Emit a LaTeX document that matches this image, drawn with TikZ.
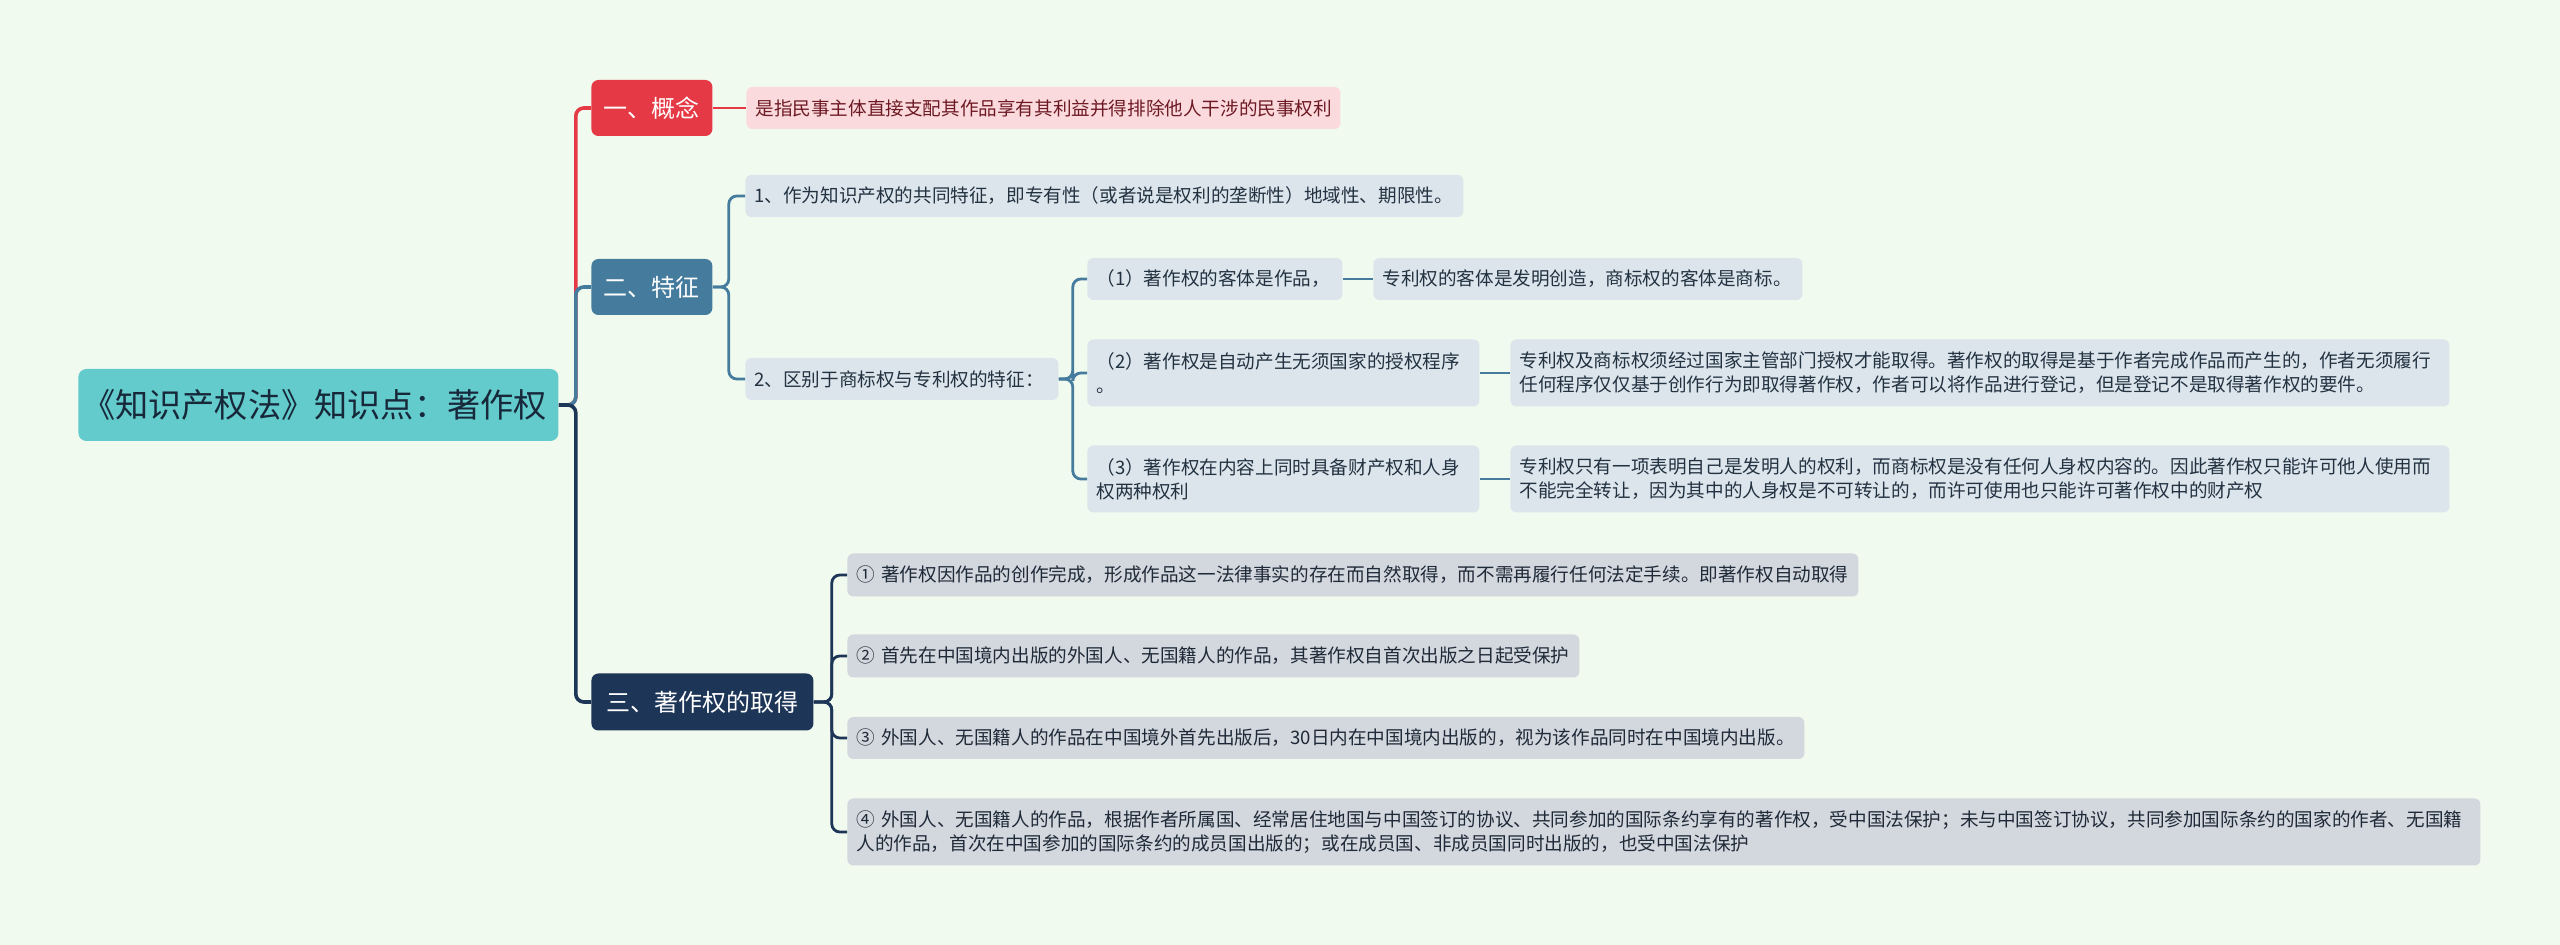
\documentclass[tikz,border=0pt]{standalone}
\usepackage{fontspec}
\setmainfont{Noto Sans CJK SC}
\definecolor{bgc}{HTML}{F1FAEE}
\definecolor{rootc}{HTML}{63CBCB}
\definecolor{roottext}{HTML}{17283A}
\definecolor{redc}{HTML}{E63946}
\definecolor{pinkfill}{HTML}{FADADD}
\definecolor{pinktext}{HTML}{6E1A24}
\definecolor{bluec}{HTML}{457B9D}
\definecolor{bluefill}{HTML}{DCE5EC}
\definecolor{bluetext}{HTML}{233241}
\definecolor{navyc}{HTML}{1D3557}
\definecolor{navyfill}{HTML}{D3D7DE}
\definecolor{navytext}{HTML}{1F2A38}
\begin{document}
\begin{tikzpicture}[x=0.5pt,y=-0.5pt,
  mainline/.style={line width=1.8pt, rounded corners=4pt},
  subline/.style={line width=1.4pt, rounded corners=4pt},
  box/.style={rounded corners=3pt, inner xsep=4.5pt, inner ysep=0pt, align=left, anchor=west, font=\fontsize{9.3}{12}\selectfont, minimum height=21pt},
  tall/.style={minimum height=33.5pt},
  bluebox/.style={box, fill=bluefill, text=bluetext},
  navybox/.style={box, fill=navyfill, text=navytext},
  pinkbox/.style={box, fill=pinkfill, text=pinktext},
  topic/.style={rounded corners=3.5pt, anchor=west, text=white, font=\fontsize{12}{14}\selectfont, minimum height=28pt, inner sep=0pt, align=center},
  sz/.style 2 args={minimum width=#1, text width=#2},
]
\fill[bgc] (0,0) rectangle (2560,945);
\useasboundingbox (0,0) rectangle (2560,945);

% root
\node[fill=rootc, rounded corners=4pt, anchor=west, text=roottext, font=\fontsize{16.6}{19}\selectfont, minimum width=240pt, minimum height=36pt, inner sep=0pt] (root) at (78,405) {\hspace*{-4pt}《知识产权法》知识点：著作权};

% level 1
\node[topic, fill=redc, minimum width=60.5pt] (n1) at (591,108) {一、概念};
\node[topic, fill=bluec, minimum width=60.5pt] (n2) at (591,287) {二、特征};
\node[topic, fill=navyc, minimum width=111pt, minimum height=28.5pt] (n3) at (591,702) {三、著作权的取得};

% concept
\node[pinkbox, sz={297pt}{288pt}] (d1) at (746,108) {是指民事主体直接支配其作品享有其利益并得排除他人干涉的民事权利};

% features
\node[bluebox, sz={359pt}{350pt}] (f1) at (745,196) {1、作为知识产权的共同特征，即专有性（或者说是权利的垄断性）地域性、期限性。};
\node[bluebox, sz={156.5pt}{147.5pt}] (f2) at (745,379) {2、区别于商标权与专利权的特征：};
\node[bluebox, sz={127.5pt}{118.5pt}] (g1) at (1087,279) {（1）著作权的客体是作品，};
\node[bluebox, sz={214.5pt}{205.5pt}] (h1) at (1373,279) {专利权的客体是发明创造，商标权的客体是商标。};
\node[bluebox, tall, sz={196pt}{187pt}] (g2) at (1087,373) {（2）著作权是自动产生无须国家的授权程序\\。};
\node[bluebox, tall, sz={469.5pt}{460.5pt}] (h2) at (1510,373) {专利权及商标权须经过国家主管部门授权才能取得。著作权的取得是基于作者完成作品而产生的，作者无须履行\\任何程序仅仅基于创作行为即取得著作权，作者可以将作品进行登记，但是登记不是取得著作权的要件。};
\node[bluebox, tall, sz={196pt}{187pt}] (g3) at (1087,479) {（3）著作权在内容上同时具备财产权和人身\\权两种权利};
\node[bluebox, tall, sz={469.5pt}{460.5pt}] (h3) at (1510,479) {专利权只有一项表明自己是发明人的权利，而商标权是没有任何人身权内容的。因此著作权只能许可他人使用而\\不能完全转让，因为其中的人身权是不可转让的，而许可使用也只能许可著作权中的财产权};

% acquisition
\node[navybox, minimum height=21.5pt, sz={505.5pt}{496.5pt}] (a1) at (847,575) {①~著作权因作品的创作完成，形成作品这一法律事实的存在而自然取得，而不需再履行任何法定手续。即著作权自动取得};
\node[navybox, minimum height=21.5pt, sz={366pt}{357pt}] (a2) at (847,656) {②~首先在中国境内出版的外国人、无国籍人的作品，其著作权自首次出版之日起受保护};
\node[navybox, sz={478.5pt}{469.5pt}] (a3) at (847,738) {③~外国人、无国籍人的作品在中国境外首先出版后，30日内在中国境内出版的，视为该作品同时在中国境内出版。};
\node[navybox, tall, sz={816.5pt}{807.5pt}] (a4) at (847,832) {④~外国人、无国籍人的作品，根据作者所属国、经常居住地国与中国签订的协议、共同参加的国际条约享有的著作权，受中国法保护；未与中国签订协议，共同参加国际条约的国家的作者、无国籍\\人的作品，首次在中国参加的国际条约的成员国出版的；或在成员国、非成员国同时出版的，也受中国法保护};

% connectors level 1
\draw[mainline, redc] (root.east) -- ++(17,0) |- (n1.west);
\draw[mainline, bluec] (root.east) -- ++(17,0) |- (n2.west);
\draw[mainline, navyc] (root.east) -- ++(17,0) |- (n3.west);

% concept
\draw[subline, redc] (n1.east) -- (d1.west);

% features
\draw[subline, bluec] (n2.east) -- ++(16,0) |- (f1.west);
\draw[subline, bluec] (n2.east) -- ++(16,0) |- (f2.west);
\draw[subline, bluec] (f2.east) -- ++(14,0) |- (g1.west);
\draw[subline, bluec] (f2.east) -- ++(14,0) |- (g2.west);
\draw[subline, bluec] (f2.east) -- ++(14,0) |- (g3.west);
\draw[subline, bluec] (g1.east) -- (h1.west);
\draw[subline, bluec] (g2.east) -- (h2.west);
\draw[subline, bluec] (g3.east) -- (h3.west);

% acquisition
\draw[subline, navyc] (n3.east) -- ++(18,0) |- (a1.west);
\draw[subline, navyc] (n3.east) -- ++(18,0) |- (a2.west);
\draw[subline, navyc] (n3.east) -- ++(18,0) |- (a3.west);
\draw[subline, navyc] (n3.east) -- ++(18,0) |- (a4.west);
\end{tikzpicture}
\end{document}
